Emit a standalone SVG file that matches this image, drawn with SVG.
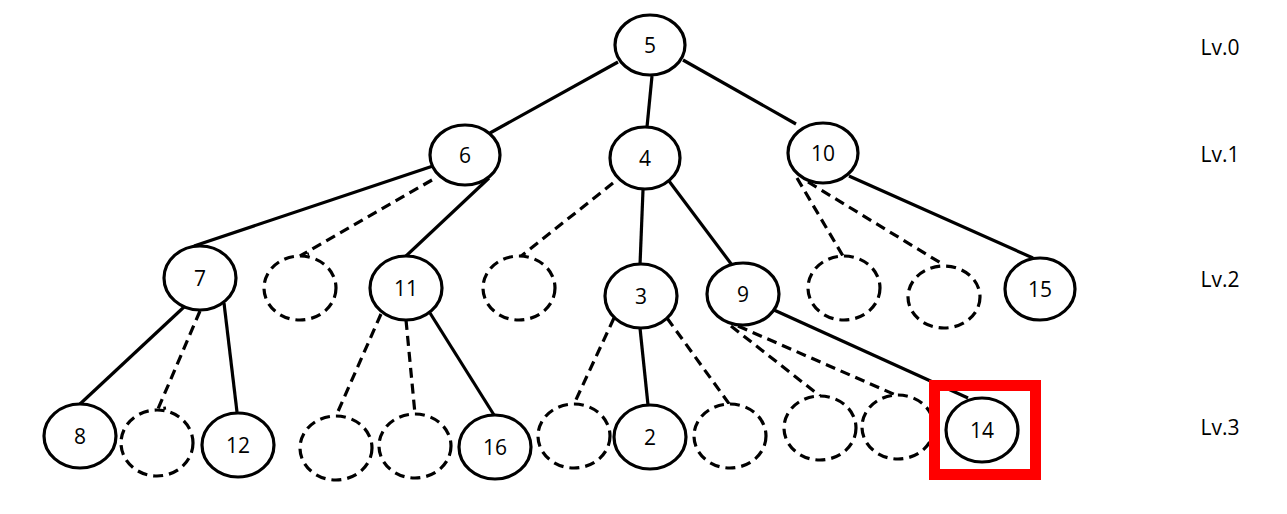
<svg xmlns="http://www.w3.org/2000/svg" width="1287" height="514" viewBox="0 0 1287 514">
<style>
.n ellipse{fill:#fff;stroke:#000;stroke-width:3.2}
.d ellipse{fill:#fff;stroke:#000;stroke-width:3.2;stroke-dasharray:10 6}
text{font-family:"Open Sans","Noto Sans","Liberation Sans",sans-serif;font-size:21px;fill:#000;text-anchor:middle;dominant-baseline:central}
.s{stroke:#000;stroke-width:3.2;fill:none}
.dl{stroke:#000;stroke-width:3.2;fill:none;stroke-dasharray:10 6}
</style>
<rect width="1287" height="514" fill="#fff"/>
<g id="connectors">
<line class="s" x1="618" y1="62" x2="490" y2="133"/>
<line class="s" x1="652" y1="76" x2="647" y2="127"/>
<line class="s" x1="683" y1="60" x2="796" y2="124"/>
<line class="s" x1="433" y1="166" x2="194" y2="246"/>
<polyline class="dl" points="432,180 300,256 309,254"/>
<line class="s" x1="489" y1="178" x2="405" y2="257"/>
<line class="dl" x1="613" y1="183" x2="520" y2="257"/>
<line class="s" x1="643" y1="190" x2="640" y2="265"/>
<line class="s" x1="669" y1="181" x2="732" y2="265"/>
<line class="dl" x1="797" y1="178" x2="843" y2="256"/>
<line class="dl" x1="808" y1="182" x2="944" y2="265"/>
<line class="s" x1="849" y1="176" x2="1033" y2="258"/>
<line class="s" x1="184" y1="307" x2="80" y2="404"/>
<polyline class="dl" points="200,311 158,409 166,408"/>
<line class="s" x1="224" y1="303" x2="237" y2="412"/>
<line class="dl" x1="381" y1="314" x2="336" y2="416"/>
<line class="dl" x1="406" y1="320" x2="415" y2="414"/>
<line class="s" x1="430" y1="313" x2="494" y2="415"/>
<line class="dl" x1="614" y1="318" x2="574" y2="404"/>
<line class="s" x1="640" y1="328" x2="648" y2="405"/>
<line class="dl" x1="667" y1="318" x2="730" y2="405"/>
<line class="dl" x1="731" y1="326" x2="820" y2="396"/>
<line class="dl" x1="738" y1="326" x2="898" y2="396"/>
<line class="s" x1="774" y1="310" x2="968" y2="398"/>
</g>
<g id="n5" class="n"><ellipse cx="650" cy="45" rx="35" ry="30"/><text x="650" y="45">5</text></g>
<g id="n6" class="n"><ellipse cx="465" cy="155" rx="35" ry="30"/><text x="465" y="155">6</text></g>
<g id="n4" class="n"><ellipse cx="645" cy="158" rx="35" ry="31"/><text x="645" y="158">4</text></g>
<g id="n10" class="n"><ellipse cx="823" cy="153" rx="35" ry="30"/><text x="823" y="153">10</text></g>
<g id="n7" class="n"><ellipse cx="200" cy="278" rx="36" ry="32"/><text x="200" y="278">7</text></g>
<g id="e1" class="d"><ellipse cx="300" cy="288" rx="36" ry="32"/></g>
<g id="n11" class="n"><ellipse cx="406" cy="288" rx="36" ry="32"/><text x="406" y="288">11</text></g>
<g id="e2" class="d"><ellipse cx="519" cy="288" rx="36" ry="32"/></g>
<g id="n3" class="n"><ellipse cx="641" cy="296" rx="36" ry="32"/><text x="641" y="296">3</text></g>
<g id="n9" class="n"><ellipse cx="743" cy="294" rx="36" ry="31"/><text x="743" y="294">9</text></g>
<g id="e3" class="d"><ellipse cx="844" cy="288" rx="36" ry="32"/></g>
<g id="e4" class="d"><ellipse cx="944" cy="297" rx="36" ry="31"/></g>
<g id="n15" class="n"><ellipse cx="1040" cy="289" rx="35" ry="31"/><text x="1040" y="289">15</text></g>
<g id="n8" class="n"><ellipse cx="80" cy="436" rx="36" ry="32"/><text x="80" y="436">8</text></g>
<g id="e5" class="d"><ellipse cx="157" cy="443" rx="36" ry="33"/></g>
<g id="n12" class="n"><ellipse cx="238" cy="445" rx="36" ry="32"/><text x="238" y="445">12</text></g>
<g id="e6" class="d"><ellipse cx="336" cy="448" rx="36" ry="32"/></g>
<g id="e7" class="d"><ellipse cx="415" cy="446" rx="36" ry="32"/></g>
<g id="n16" class="n"><ellipse cx="495" cy="447" rx="36" ry="32"/><text x="495" y="447">16</text></g>
<g id="e8" class="d"><ellipse cx="574" cy="436" rx="36" ry="32"/></g>
<g id="n2" class="n"><ellipse cx="650" cy="437" rx="36" ry="32"/><text x="650" y="437">2</text></g>
<g id="e9" class="d"><ellipse cx="730" cy="436" rx="36" ry="32"/></g>
<g id="e10" class="d"><ellipse cx="820" cy="428" rx="36" ry="32"/></g>
<g id="e11" class="d"><ellipse cx="898" cy="427" rx="36" ry="32"/></g>
<g id="n14" class="n"><ellipse cx="982" cy="430" rx="36" ry="32"/><text x="982" y="430">14</text></g>
<rect id="highlight" x="934.5" y="385.5" width="101" height="89" fill="none" stroke="#ff0000" stroke-width="11"/>
<g id="levels">
<text x="1220" y="47">Lv.0</text>
<text x="1220" y="154">Lv.1</text>
<text x="1220" y="279">Lv.2</text>
<text x="1220" y="427">Lv.3</text>
</g>
</svg>
